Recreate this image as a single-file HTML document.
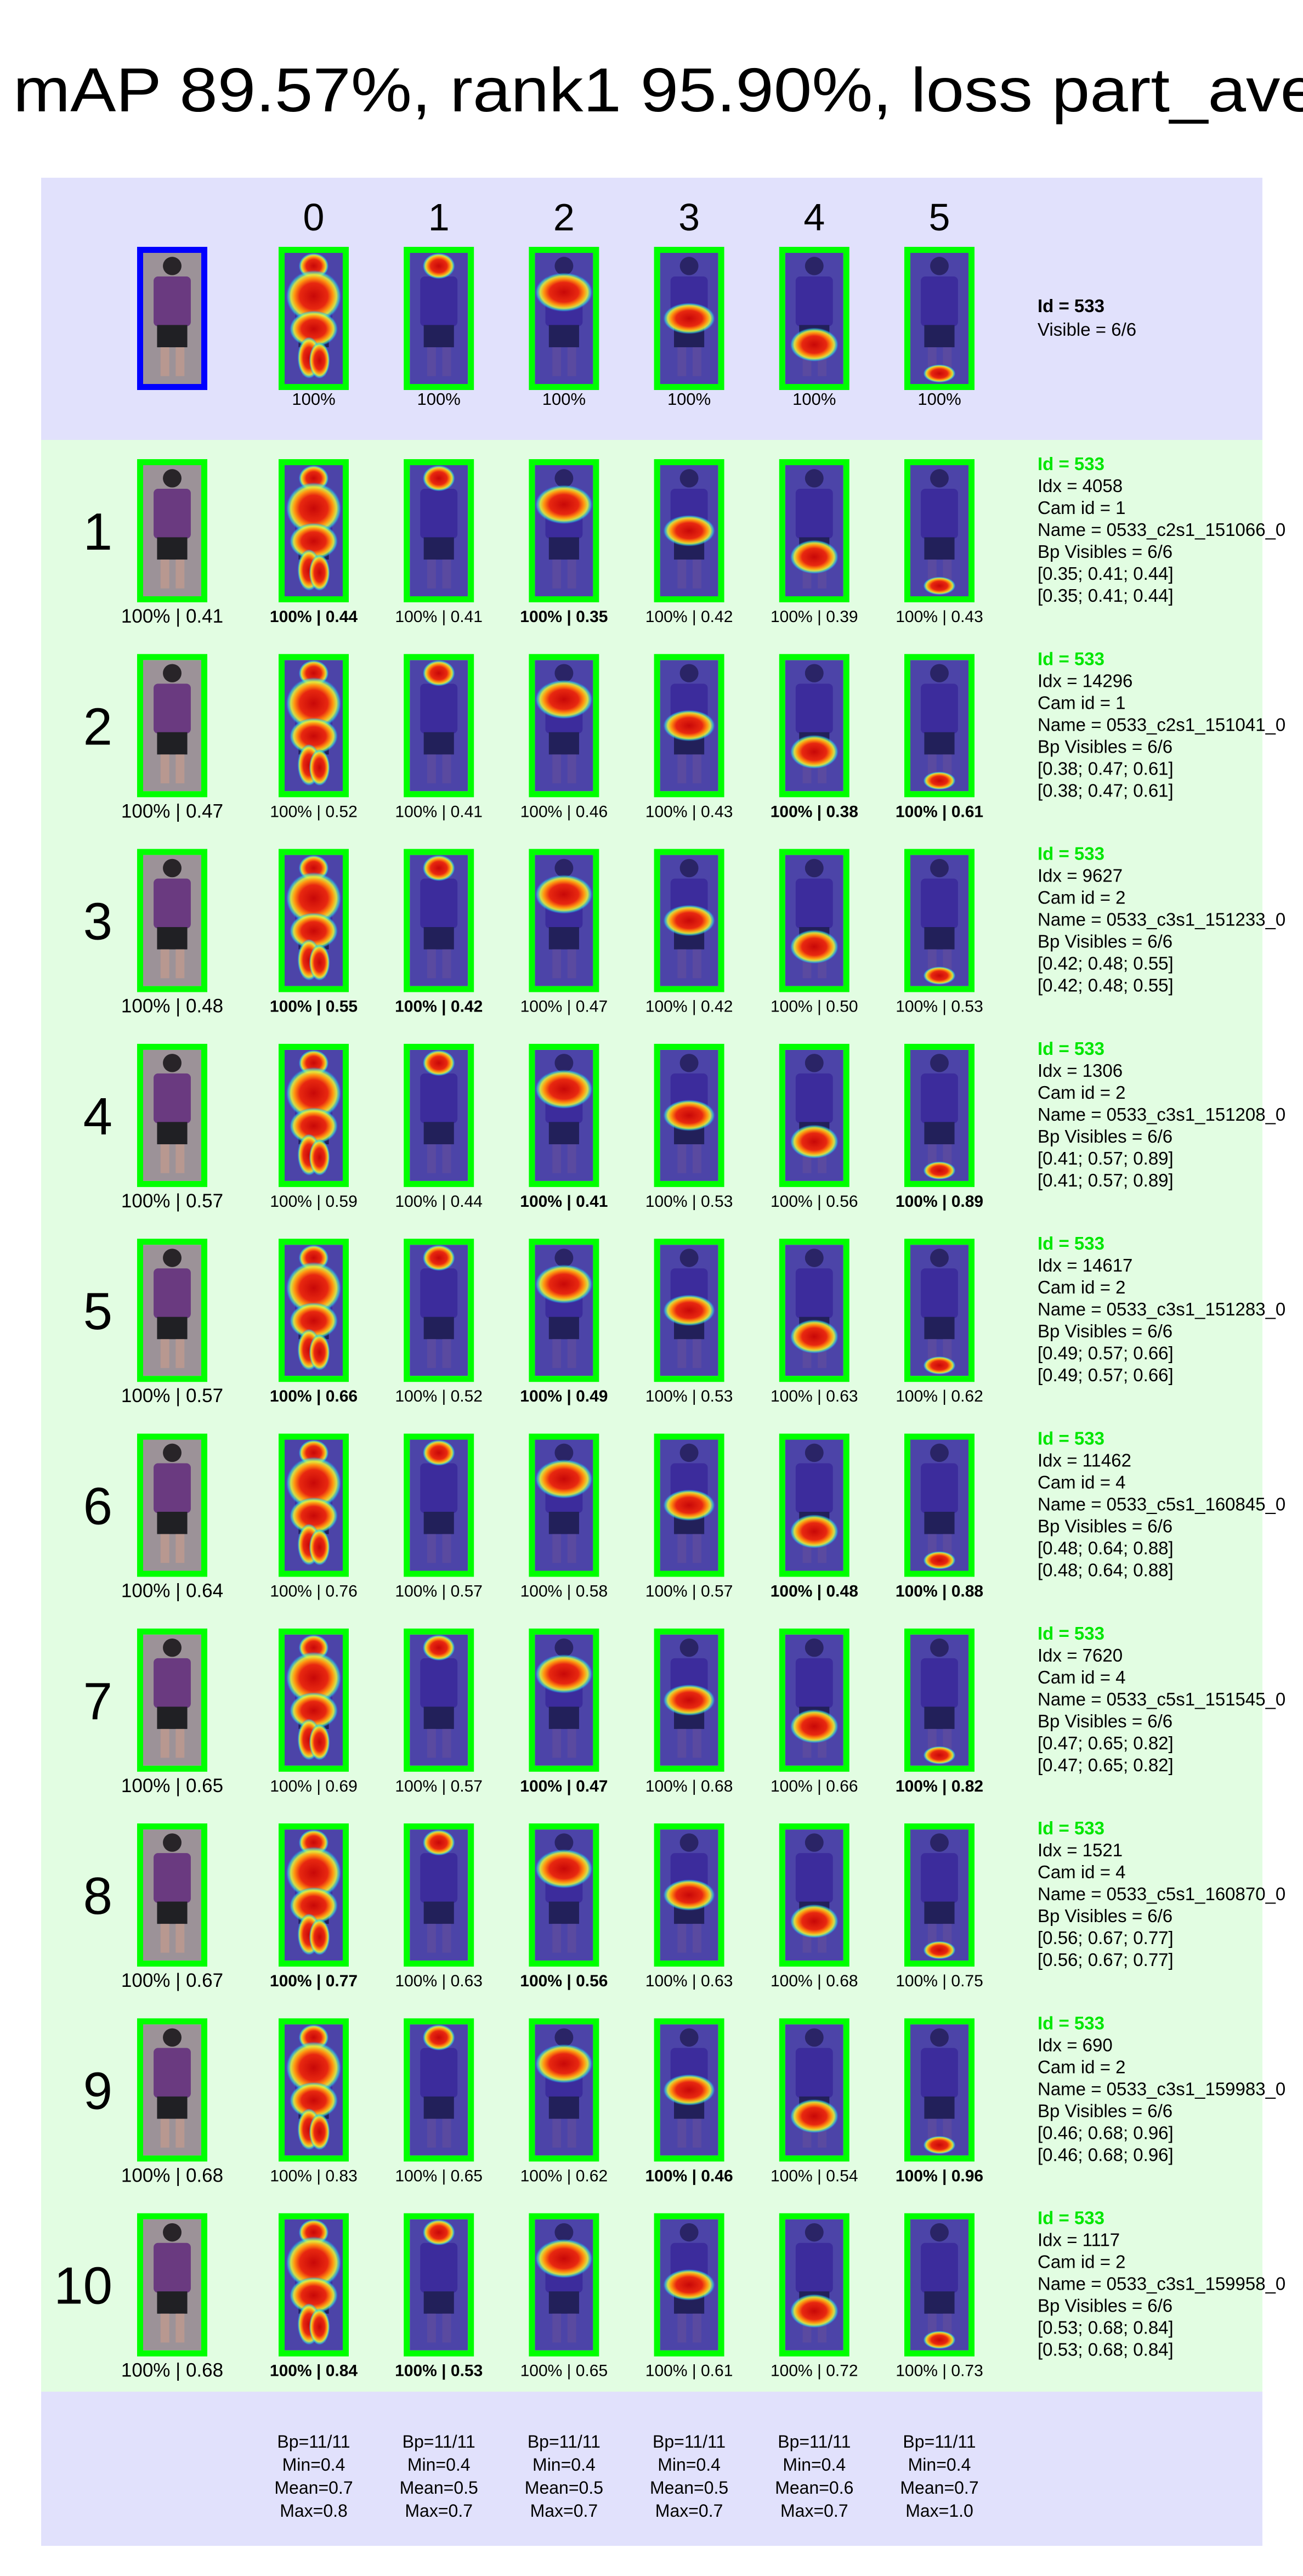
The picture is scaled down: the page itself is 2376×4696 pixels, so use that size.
<!DOCTYPE html>
<html><head><meta charset="utf-8">
<style>
html,body{margin:0;padding:0;background:#fff;}
svg{display:block;}
text{font-family:"Liberation Sans Narrow","Liberation Sans",sans-serif;}
</style></head>
<body>
<svg id="fig" xmlns="http://www.w3.org/2000/svg" width="2376" height="4696" viewBox="0 0 2376 4696">
<defs>
<radialGradient id="jet">
<stop offset="0" stop-color="#c80808"/>
<stop offset="0.5" stop-color="#e82810"/>
<stop offset="0.7" stop-color="#ff9a10"/>
<stop offset="0.82" stop-color="#e0f040" stop-opacity="0.9"/>
<stop offset="0.92" stop-color="#30e0e0" stop-opacity="0.6"/>
<stop offset="1" stop-color="#3050ff" stop-opacity="0"/>
</radialGradient>
</defs>
<rect x="0" y="0" width="2376" height="4696" fill="#ffffff"/>
<text x="24" y="203" font-size="113" textLength="2380" lengthAdjust="spacingAndGlyphs">mAP 89.57%, rank1 95.90%, loss part_ave</text>
<rect x="75" y="324" width="2227" height="478" fill="#e1e1fc"/>
<rect x="75" y="802" width="2227" height="3558" fill="#e2fde2"/>
<rect x="75" y="4360" width="2227" height="281" fill="#e1e1fc"/>
<g id="content"></g>
</svg>
<script>
const partHeaders = ["0","1","2","3","4","5"];
const queryVis = ["100%","100%","100%","100%","100%","100%"];
const rankLabels = ["1","2","3","4","5","6","7","8","9","10"];
const galleryScores = ["0.41","0.47","0.48","0.57","0.57","0.64","0.65","0.67","0.68","0.68"];
const partScores = [
 ["0.44","0.41","0.35","0.42","0.39","0.43"],
 ["0.52","0.41","0.46","0.43","0.38","0.61"],
 ["0.55","0.42","0.47","0.42","0.50","0.53"],
 ["0.59","0.44","0.41","0.53","0.56","0.89"],
 ["0.66","0.52","0.49","0.53","0.63","0.62"],
 ["0.76","0.57","0.58","0.57","0.48","0.88"],
 ["0.69","0.57","0.47","0.68","0.66","0.82"],
 ["0.77","0.63","0.56","0.63","0.68","0.75"],
 ["0.83","0.65","0.62","0.46","0.54","0.96"],
 ["0.84","0.53","0.65","0.61","0.72","0.73"]];
const partBold = [
 [1,0,1,0,0,0],[0,0,0,0,1,1],[1,1,0,0,0,0],[0,0,1,0,0,1],[1,0,1,0,0,0],
 [0,0,0,0,1,1],[0,0,1,0,0,1],[1,0,1,0,0,0],[0,0,0,1,0,1],[1,1,0,0,0,0]];
const galIdx = ["4058","14296","9627","1306","14617","11462","7620","1521","690","1117"];
const galCam = ["1","1","2","2","2","4","4","4","2","2"];
const galName = ["0533_c2s1_151066_0","0533_c2s1_151041_0","0533_c3s1_151233_0","0533_c3s1_151208_0","0533_c3s1_151283_0","0533_c5s1_160845_0","0533_c5s1_151545_0","0533_c5s1_160870_0","0533_c3s1_159983_0","0533_c3s1_159958_0"];
const galTriple = ["[0.35; 0.41; 0.44]","[0.38; 0.47; 0.61]","[0.42; 0.48; 0.55]","[0.41; 0.57; 0.89]","[0.49; 0.57; 0.66]","[0.48; 0.64; 0.88]","[0.47; 0.65; 0.82]","[0.56; 0.67; 0.77]","[0.46; 0.68; 0.96]","[0.53; 0.68; 0.84]"];
const statBp = ["Bp=11/11","Bp=11/11","Bp=11/11","Bp=11/11","Bp=11/11","Bp=11/11"];
const statMin = ["0.4","0.4","0.4","0.4","0.4","0.4"];
const statMean = ["0.7","0.5","0.5","0.5","0.6","0.7"];
const statMax = ["0.8","0.7","0.7","0.7","0.7","1.0"];

const NS="http://www.w3.org/2000/svg";
const root=document.getElementById('content');
function mk(tag,attrs,parent){const e=document.createElementNS(NS,tag);for(const k in attrs)e.setAttribute(k,attrs[k]);(parent||root).appendChild(e);return e;}
function txt(x,y,s,size,opts,parent){const t=mk('text',Object.assign({x:x,y:y,'font-size':size},opts||{}),parent);t.textContent=s;return t;}

const colX = i => 508 + i*228.2;
const rowY = r => 837 + r*355.3;
const IW=128, IH=261, B=11;
const blobs = [
 [[0.5,0.1,0.26,0.1],[0.5,0.33,0.48,0.2],[0.5,0.58,0.42,0.14],[0.42,0.8,0.2,0.16],[0.6,0.82,0.18,0.14]],
 [[0.5,0.1,0.28,0.1]],
 [[0.5,0.3,0.5,0.15]],
 [[0.5,0.5,0.45,0.12]],
 [[0.5,0.7,0.42,0.13]],
 [[0.5,0.92,0.28,0.07]]];

function person(g,x,y,w,h,heat){
  const ix=x+B, iy=y+B, iw=w-2*B, ih=h-2*B;
  const bg = heat? "#4c44a8" : "#9c9298";
  mk('rect',{x:ix,y:iy,width:iw,height:ih,fill:bg},g);
  const skin = heat? "#5a4aa0":"#b89890";
  const shirt = heat? "#3c2c9c":"#6a3a80";
  const shorts = heat? "#22205a":"#202024";
  mk('ellipse',{cx:ix+iw*0.5,cy:iy+ih*0.1,rx:iw*0.16,ry:ih*0.07,fill:heat?"#2a2466":"#282428"},g);
  mk('rect',{x:ix+iw*0.18,y:iy+ih*0.18,width:iw*0.64,height:ih*0.38,rx:8,fill:shirt},g);
  mk('rect',{x:ix+iw*0.24,y:iy+ih*0.55,width:iw*0.52,height:ih*0.17,fill:shorts},g);
  mk('rect',{x:ix+iw*0.3,y:iy+ih*0.72,width:iw*0.15,height:ih*0.22,fill:skin},g);
  mk('rect',{x:ix+iw*0.56,y:iy+ih*0.72,width:iw*0.15,height:ih*0.22,fill:skin},g);
  return [ix,iy,iw,ih];
}
function frame(g,x,y,color){
  mk('rect',{x:x+B/2,y:y+B/2,width:IW-B,height:IH-B,fill:'none',stroke:color,'stroke-width':B},g);
}
function heatImg(name,x,y,p){
  const g=mk('g',{});
  
  
  const [ix,iy,iw,ih]=person(g,x,y,IW,IH,true);
  blobs[p].forEach(b=>{mk('ellipse',{cx:ix+iw*b[0],cy:iy+ih*b[1],rx:iw*b[2],ry:ih*b[3],fill:'url(#jet)'},g);});
  frame(g,x,y,'#00ff00');
}
function rawImg(name,x,y,color){
  const g=mk('g',{});
  
  
  person(g,x,y,IW,IH,false);
  frame(g,x,y,color);
}

// headers
partHeaders.forEach((h,i)=>{
  const t=txt(colX(i)+IW/2,420,h,70,{'text-anchor':'middle'});
  
  
});
// query row
rawImg('query-image',250,450,'#0000ff');
queryVis.forEach((v,i)=>{
  heatImg('query-part-'+i,colX(i),450,i);
  const t=txt(colX(i)+IW/2,738,v,31,{'text-anchor':'middle'});
  
  
});
let t=txt(1892,569,"Id = 533",33,{'font-weight':'bold'});


t=txt(1892,612,"Visible = 6/6",33);



// gallery rows
rankLabels.forEach((rl,r)=>{
  const y=rowY(r);
  const rt=txt(205,y+165,rl,96,{'text-anchor':'end'});
  
  
  rawImg('gallery-image-'+rl,250,y,'#00ff00');
  const gl=txt(314,y+298,"100% | "+galleryScores[r],35,{'text-anchor':'middle'});
  
  
  partScores[r].forEach((s,i)=>{
    heatImg('gallery-'+rl+'-part-'+i,colX(i),y,i);
    const pl=txt(colX(i)+IW/2,y+297,"100% | "+s,30,{'text-anchor':'middle','font-weight':partBold[r][i]?'bold':'normal'});
    
    
  });
  const lines=["Id = 533","Idx = "+galIdx[r],"Cam id = "+galCam[r],"Name = "+galName[r],"Bp Visibles = 6/6",galTriple[r],galTriple[r]];
  lines.forEach((s,k)=>{
    const it=txt(1892,y+20+k*40,s,33,k===0?{'font-weight':'bold',fill:'#00e600'}:{});
    
    
  });
});

// stats
statBp.forEach((b,i)=>{
  const cx=colX(i)+IW/2;
  const rows=[b,"Min="+statMin[i],"Mean="+statMean[i],"Max="+statMax[i]];
  rows.forEach((s,k)=>{
    const st=txt(cx,4462+k*42,s,32,{'text-anchor':'middle'});
    
    
  });
});
</script>
</body></html>
